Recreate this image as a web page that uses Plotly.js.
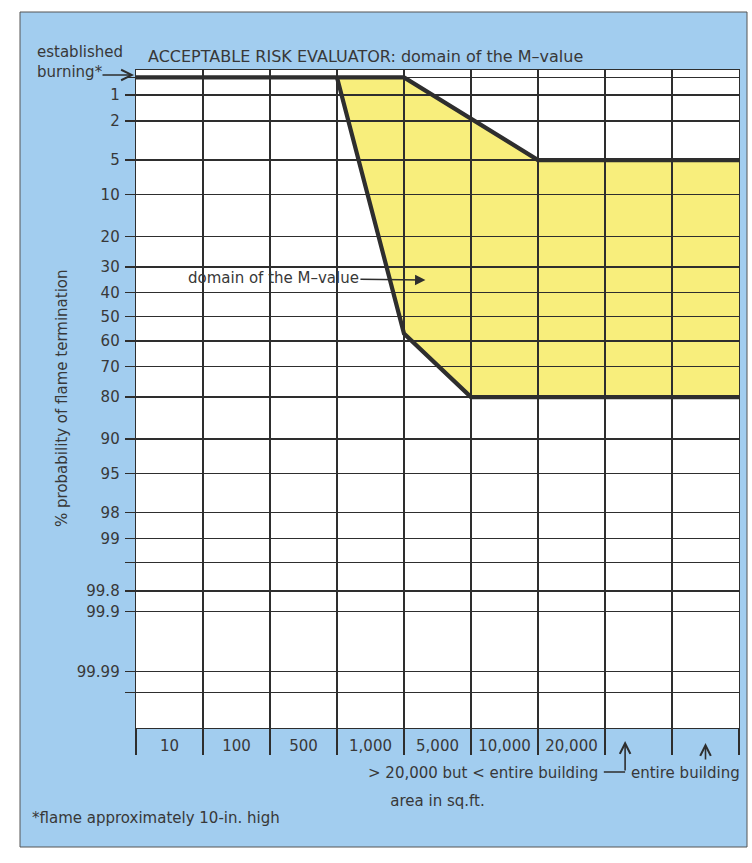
<!DOCTYPE html>
<html>
<head>
<meta charset="utf-8">
<script src="https://cdn.plot.ly/plotly-3.0.1.min.js"></script>
<style>html,body{margin:0;padding:0;background:#fff;}#chart{width:752px;height:863px;}</style>
</head>
<body>
<div id="chart"></div>
<script>
// ---------------- data ----------------
// area categories (columns of the chart)
var areaCategories = ['10', '100', '500', '1,000', '5,000', '10,000', '20,000',
  '> 20,000 but < entire building', 'entire building'];
// probability gridlines (% probability of flame termination) and their labels
var establishedLevel = 0.6;   // "established burning" row
var probTicks = [establishedLevel, 1, 2, 5, 10, 20, 30, 40, 50, 60, 70, 80, 90, 95, 98, 99, 99.5, 99.8, 99.9, 99.99, 99.996];
var probTickText = ['', '1', '2', '5', '10', '20', '30', '40', '50', '60', '70', '80', '90', '95', '98', '99', '', '99.8', '99.9', '99.99', ''];
// boundary of the M-value domain (x = column boundary index, y = % probability)
var upperBoundX = [0, 4, 6, 9];
var upperBoundPct = [establishedLevel, establishedLevel, 5, 5];
var lowerBoundX = [3, 4, 5, 9];
var lowerBoundPct = [establishedLevel, 57, 80, 80];

// ---------------- probability (probit) scale ----------------
function probit(pct) {
  var p = pct / 100;
  var a = [-3.969683028665376e+01, 2.209460984245205e+02, -2.759285104469687e+02, 1.383577518672690e+02, -3.066479806614716e+01, 2.506628277459239e+00];
  var b = [-5.447609879822406e+01, 1.615858368580409e+02, -1.556989798598866e+02, 6.680131188771972e+01, -1.328068155288572e+01];
  var c = [-7.784894002430293e-03, -3.223964580411365e-01, -2.400758277161838e+00, -2.549732539343734e+00, 4.374664141464968e+00, 2.938163982698783e+00];
  var d = [7.784695709041462e-03, 3.224671290700398e-01, 2.445134137142996e+00, 3.754408661907416e+00];
  var pl = 0.02425, q, r;
  if (p < pl) {
    q = Math.sqrt(-2 * Math.log(p));
    return (((((c[0]*q+c[1])*q+c[2])*q+c[3])*q+c[4])*q+c[5]) / ((((d[0]*q+d[1])*q+d[2])*q+d[3])*q+1);
  }
  if (p <= 1 - pl) {
    q = p - 0.5; r = q * q;
    return (((((a[0]*r+a[1])*r+a[2])*r+a[3])*r+a[4])*r+a[5])*q / (((((b[0]*r+b[1])*r+b[2])*r+b[3])*r+b[4])*r+1);
  }
  q = Math.sqrt(-2 * Math.log(1 - p));
  return -(((((c[0]*q+c[1])*q+c[2])*q+c[3])*q+c[4])*q+c[5]) / ((((d[0]*q+d[1])*q+d[2])*q+d[3])*q+1);
}

// ---------------- layout geometry ----------------
var W = 752, H = 863;
var M = {l: 136, r: 13, t: 70, b: 135};
var PW = W - M.l - M.r, PH = H - M.t - M.b;
function px2x(px) { return (px - M.l) / PW; }
function py2y(py) { return (H - M.b - py) / PH; }

var FONT = 'DejaVu Sans';
var TXT = '#383838';
var LINE = '#2e2e2e';
var BLUE = '#a2cdef';
var YELLOW = '#f8ee7c';

var nCols = areaCategories.length;
var colCenters = areaCategories.map(function (c, i) { return i + 0.5; });
var colBounds = [];
for (var i = 0; i <= nCols; i++) colBounds.push(i);
var stripText = areaCategories.map(function (c, i) { return i < 7 ? c : ''; });

// polygon of the domain: start of lower boundary, upper boundary to the right, lower boundary back
var poly = [[lowerBoundX[0], probit(lowerBoundPct[0])]];
upperBoundX.forEach(function (x, i) { if (x > lowerBoundX[0]) poly.push([x, probit(upperBoundPct[i])]); });
for (var k = lowerBoundX.length - 1; k >= 1; k--) poly.push([lowerBoundX[k], probit(lowerBoundPct[k])]);
var path = 'M' + poly.map(function (p) { return p[0] + ',' + p[1]; }).join('L') + 'Z';

var traces = [
  {x: upperBoundX, y: upperBoundPct.map(probit), type: 'scatter', mode: 'lines',
   line: {color: LINE, width: 4.2}, hoverinfo: 'skip', showlegend: false},
  {x: lowerBoundX, y: lowerBoundPct.map(probit), type: 'scatter', mode: 'lines',
   line: {color: LINE, width: 4.2}, hoverinfo: 'skip', showlegend: false}
];

var layout = {
  width: W, height: H,
  margin: M,
  paper_bgcolor: '#ffffff',
  plot_bgcolor: 'rgba(0,0,0,0)',
  showlegend: false,
  font: {family: FONT, size: 15, color: TXT},
  title: {text: 'ACCEPTABLE RISK EVALUATOR: domain of the M\u2013value',
          font: {family: FONT, size: 16, color: TXT},
          xref: 'paper', x: px2x(148), xanchor: 'left',
          yref: 'container', y: 1 - 56 / H, yanchor: 'middle'},
  xaxis: {
    range: [0, nCols], fixedrange: true,
    tickmode: 'array', tickvals: colCenters, ticktext: stripText,
    ticks: '', showgrid: false, zeroline: false,
    ticklabelstandoff: 4,
    tickfont: {family: FONT, size: 15, color: TXT},
    showline: true, linecolor: LINE, linewidth: 1.3, mirror: true,
    minor: {tickmode: 'array', tickvals: colBounds, ticks: 'outside', ticklen: 26,
            tickwidth: 1.3, tickcolor: LINE, showgrid: true, gridcolor: LINE, gridwidth: 1.3},
    title: {text: 'area in sq.ft.', font: {family: FONT, size: 15, color: TXT}, standoff: 41}
  },
  yaxis: {
    range: [probit(99.9992), probit(0.48)], fixedrange: true,
    tickmode: 'array', tickvals: probTicks.map(probit), ticktext: probTickText,
    ticks: 'outside', ticklen: 10, tickwidth: 1.3, tickcolor: LINE,
    ticklabelstandoff: 2,
    tickfont: {family: FONT, size: 15, color: TXT},
    showgrid: true, gridcolor: LINE, gridwidth: 1.3, zeroline: false,
    showline: true, linecolor: LINE, linewidth: 1.3, mirror: true
  },
  shapes: [
    {type: 'rect', xref: 'paper', yref: 'paper', layer: 'below',
     x0: px2x(20), x1: px2x(747), y0: py2y(847), y1: py2y(12),
     fillcolor: BLUE, line: {color: '#555', width: 1}},
    {type: 'rect', xref: 'paper', yref: 'paper', layer: 'below',
     x0: 0, x1: 1, y0: 0, y1: 1, fillcolor: '#ffffff', line: {width: 0}},
    {type: 'path', xref: 'x', yref: 'y', layer: 'below', path: path,
     fillcolor: YELLOW, line: {width: 0}}
  ],
  annotations: [
    {xref: 'paper', yref: 'paper', x: px2x(62), y: py2y(398), textangle: -90,
     xanchor: 'center', yanchor: 'middle', showarrow: false,
     text: '% probability of flame termination', font: {family: FONT, size: 15, color: TXT}},
    {xref: 'paper', yref: 'paper', x: px2x(35), y: py2y(62), xanchor: 'left', yanchor: 'middle',
     align: 'left', showarrow: false, text: 'established<br>burning*',
     font: {family: FONT, size: 15, color: TXT}},
    {xref: 'paper', yref: 'paper', x: px2x(134), y: py2y(75), text: '', showarrow: true,
     ax: -33, ay: 0, arrowhead: 5, arrowsize: 1.3, arrowwidth: 1.6, arrowcolor: LINE},
    {xref: 'x', yref: 'y', x: 4.32, y: probit(35), text: 'domain of the M\u2013value',
     showarrow: true, ax: -152, ay: -2, arrowhead: 2, arrowsize: 1.3, arrowwidth: 1.6, arrowcolor: LINE,
     font: {family: FONT, size: 15, color: TXT}},
    {xref: 'x', yref: 'paper', x: 6.93, y: py2y(773), xanchor: 'right', yanchor: 'middle',
     showarrow: false, text: areaCategories[7], font: {family: FONT, size: 15, color: TXT}},
    {xref: 'x', yref: 'paper', x: 7.3, y: py2y(772), text: '', showarrow: true,
     axref: 'x', ax: 6.96, ay: 0, arrowhead: 0, arrowwidth: 1.6, arrowcolor: LINE},
    {xref: 'x', yref: 'paper', x: 7.3, y: py2y(741), text: '', showarrow: true,
     ax: 0, ay: 31, arrowhead: 5, arrowsize: 1.3, arrowwidth: 1.6, arrowcolor: LINE},
    {xref: 'x', yref: 'paper', x: 8.2, y: py2y(773), yanchor: 'middle',
     showarrow: false, text: areaCategories[8], font: {family: FONT, size: 15, color: TXT}},
    {xref: 'x', yref: 'paper', x: 8.5, y: py2y(743), text: '', showarrow: true,
     ax: 0, ay: 18, arrowhead: 5, arrowsize: 1.3, arrowwidth: 1.6, arrowcolor: LINE},
    {xref: 'paper', yref: 'paper', x: px2x(30), y: py2y(818), xanchor: 'left', yanchor: 'middle',
     showarrow: false, text: '*flame approximately 10-in. high', font: {family: FONT, size: 15, color: TXT}}
  ]
};

Plotly.newPlot('chart', traces, layout, {displayModeBar: false, staticPlot: true});
</script>
</body>
</html>
